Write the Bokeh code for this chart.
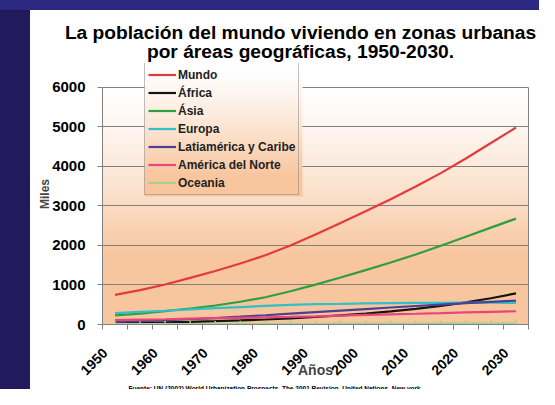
import numpy as np
from bokeh.plotting import figure
from bokeh.models import (FixedTicker, Legend, LegendItem, Range1d, Label,
                          LinearAxis, Div, CustomJSTickFormatter)
from bokeh.layouts import row, column
from bokeh.embed import file_html
from bokeh.resources import INLINE

# ---------------- data (millions, UN WUP 2001) ----------------
years = [1950, 1955, 1960, 1965, 1970, 1975, 1980, 1985, 1990, 1995,
         2000, 2005, 2010, 2015, 2020, 2025, 2030]
mundo = [751, 870, 1012, 1180, 1354, 1543, 1753, 2000, 2275, 2570,
         2862, 3170, 3490, 3830, 4200, 4590, 4983]
africa = [32, 41, 53, 67, 83, 102, 126, 155, 190, 230,
          275, 330, 395, 470, 560, 665, 787]
asia = [232, 275, 340, 405, 480, 575, 690, 840, 1010, 1190,
        1376, 1570, 1770, 1990, 2220, 2450, 2679]
europa = [287, 318, 348, 382, 412, 442, 470, 494, 516, 524,
          534, 540, 545, 549, 552, 550, 548]
latam = [69, 86, 107, 133, 163, 197, 234, 273, 313, 352,
         391, 430, 468, 505, 540, 573, 604]
norteamerica = [110, 123, 133, 148, 160, 170, 180, 191, 205, 224,
                243, 258, 272, 288, 305, 320, 335]
oceania = [8, 9, 11, 13, 14, 16, 17, 18, 19, 21,
           23, 24, 25, 27, 29, 30, 32]

series_names = ["Mundo", "África", "Ásia", "Europa", "Latiamérica y Caribe",
                "América del Norte", "Oceania"]
series_values = [mundo, africa, asia, europa, latam, norteamerica, oceania]
series_colors = ["#e33b3b", "#151515", "#2e9e3e", "#2fc0c8", "#4d3f95",
                 "#e8457a", "#a9d18e"]

x_tick_labels = [1950, 1960, 1970, 1980, 1990, 2000, 2010, 2020, 2030]
y_ticks = [0, 1000, 2000, 3000, 4000, 5000, 6000]

title_lines = ["La población del mundo viviendo en zonas urbanas",
               "por áreas geográficas, 1950-2030."]
footer = ("Fuente: UN (2002) World Urbanization Prospects. The 2001 Revision. "
          "United Nations, New york.")

# ---------------- layout ----------------
FONT = "Liberation Sans"
DARK = "#231a5e"
TOTAL_W, TOTAL_H = 539, 389
STRIP_W, STRIP_H = 30, 10
W = TOTAL_W - STRIP_W                    # 509
TITLE_H, FOOT_H = 53, 9
H = TOTAL_H - STRIP_H - TITLE_H - FOOT_H  # main figure height (317)
FL, FR, FT, FB = 72, 498, 0, 263         # frame edges in main figure px
Y_TOP_PX = 24                            # pixel of the top tick (6000)
LABEL_SHIFT = 2.0                        # x tick labels sit left of their category


def text_strip(height):
    f = figure(width=W, height=height, output_backend="svg", toolbar_location=None,
               x_range=Range1d(0, W), y_range=Range1d(0, height),
               x_axis_type=None, y_axis_type=None, min_border=0)
    f.outline_line_color = None
    f.grid.visible = False
    f.background_fill_color = "white"
    f.border_fill_color = "white"
    return f

# ---- title figure ----
tf = text_strip(TITLE_H)
for txt, yb in zip(title_lines, [TITLE_H - 22, TITLE_H - 41]):
    tf.add_layout(Label(x=270, y=yb, text=txt, text_align="center",
                        text_baseline="alphabetic", text_font=FONT,
                        text_font_style="bold", text_font_size="19.2px",
                        text_color="black"))

# ---- footer figure ----
ff = text_strip(FOOT_H)
ff.add_layout(Label(x=245, y=FOOT_H / 2, text=footer, text_align="center",
                    text_baseline="middle", text_font=FONT, text_font_style="bold",
                    text_font_size="6.5px", text_color="black"))

# ---- main figure ----
step = years[1] - years[0]
x0, x1 = years[0] - step / 2, years[-1] + step / 2
y0, ymax = y_ticks[0], y_ticks[-1]
y1 = ymax + (Y_TOP_PX - FT) * (ymax - y0) / (FB - Y_TOP_PX)

p = figure(width=W, height=H, output_backend="svg", toolbar_location=None,
           x_range=Range1d(x0, x1), y_range=Range1d(y0, y1),
           min_border_left=FL, min_border_right=W - FR,
           min_border_top=FT, min_border_bottom=H - FB)
p.background_fill_color = "white"
p.border_fill_color = "white"
p.outline_line_color = None

def px_to_x(px):
    return x0 + (px - FL) * (x1 - x0) / (FR - FL)

def px_to_y(py):
    return y0 + (FB - py) * (y1 - y0) / (FB - FT)

peach = np.array([248, 198, 158], dtype=float)
white = np.array([255, 255, 255], dtype=float)

def grad_image(n, frac_fn):
    img = np.empty((n, 1), dtype=np.uint32)
    v = img.view(dtype=np.uint8).reshape((n, 1, 4))
    for i in range(n):
        t = frac_fn(i / (n - 1))  # i=0 bottom
        c = white + (peach - white) * t
        v[i, 0, 0:3] = c.astype(np.uint8)
        v[i, 0, 3] = 255
    return img

frame_img = grad_image(300, lambda s: float(np.clip((1 - s) / 0.72, 0, 1)) ** 1.3)
p.image_rgba(image=[frame_img], x=x0, y=y0, dw=x1 - x0, dh=ymax - y0, level="image")

# legend box geometry (main figure px)
LG_L, LG_R, LG_T, LG_B = 114, 272, 3, 134
leg_img = grad_image(200, lambda s: float(np.clip((1 - s) / 0.85, 0, 1)) ** 1.3)
p.image_rgba(image=[leg_img], x=px_to_x(LG_L), y=px_to_y(LG_B),
             dw=px_to_x(LG_R) - px_to_x(LG_L), dh=px_to_y(LG_T) - px_to_y(LG_B),
             level="glyph")

p.xgrid.visible = False
p.ygrid.grid_line_color = "#808080"
p.ygrid.grid_line_width = 1
p.ygrid.ticker = FixedTicker(ticks=y_ticks[1:])

items = []
for name, vals, col in zip(series_names, series_values, series_colors):
    r = p.line(years, vals, line_color=col, line_width=2.2)
    rs = [r]
    if name == "Oceania":
        m = p.scatter(years, vals, marker="dash", angle=np.pi / 2, size=6,
                      line_color=col, line_width=1.5)
        rs.append(m)
    items.append(LegendItem(label=name, renderers=rs))

legend = Legend(items=items, location=(LG_L - FL, FB - LG_B),
                border_line_color="#808080", border_line_width=1,
                background_fill_alpha=0.0, padding=3, margin=0, spacing=1,
                glyph_width=28, glyph_height=17, label_height=17,
                label_standoff=2,
                label_text_font=FONT, label_text_font_style="bold",
                label_text_font_size="12px", label_text_color="#222222")
p.add_layout(legend, "center")

# x axis
xa = p.xaxis[0]
minor = [y - step / 2 for y in years] + [years[-1] + step / 2]
xa.ticker = FixedTicker(ticks=[y - LABEL_SHIFT for y in x_tick_labels], minor_ticks=minor)
xa.formatter = CustomJSTickFormatter(args=dict(shift=LABEL_SHIFT),
                                     code="return (tick + shift).toFixed(0)")
xa.major_label_orientation = np.pi / 4
xa.major_tick_in = 0
xa.major_tick_out = 0
xa.minor_tick_in = 0
xa.minor_tick_out = 5
xa.minor_tick_line_color = "#808080"
xa.axis_line_color = "#808080"
xa.major_label_text_font = FONT
xa.major_label_text_font_style = "bold"
xa.major_label_text_font_size = "14px"
xa.major_label_text_color = "black"
xa.major_label_standoff = 21
xa.axis_label = "Años"
xa.axis_label_text_font = FONT
xa.axis_label_text_font_style = "bold"
xa.axis_label_text_font_size = "14px"
xa.axis_label_standoff = -21

# y axis
ya = p.yaxis[0]
ya.ticker = FixedTicker(ticks=y_ticks)
ya.bounds = (y0, ymax)
ya.minor_tick_line_color = None
ya.major_tick_in = 0
ya.major_tick_out = 5
ya.major_tick_line_color = "#808080"
ya.axis_line_color = "#808080"
ya.major_label_text_font = FONT
ya.major_label_text_font_style = "bold"
ya.major_label_text_font_size = "15px"
ya.major_label_text_color = "black"
ya.major_label_standoff = 12
ya.axis_label = "Miles"
ya.axis_label_text_font = FONT
ya.axis_label_text_font_style = "bold"
ya.axis_label_text_font_size = "12px"
ya.axis_label_standoff = -3

# right frame border
ra = LinearAxis(ticker=FixedTicker(ticks=[]), bounds=(y0, ymax),
                axis_line_color="#808080", major_tick_line_color=None,
                minor_tick_line_color=None, major_label_text_font_size="0px")
p.add_layout(ra, "right")


def dark(w, h, color=DARK):
    return Div(width=w, height=h, margin=0, styles={"background-color": color})

# each figure sits in its own row so that frames are not aligned across figures
layout = column(
    dark(TOTAL_W, STRIP_H, "#2c2a80"),
    row(dark(STRIP_W, TITLE_H), tf, spacing=0),
    row(dark(STRIP_W, H), p, spacing=0),
    row(dark(STRIP_W, FOOT_H), ff, spacing=0),
    spacing=0)

open("out.html", "w").write(file_html(layout, INLINE))
